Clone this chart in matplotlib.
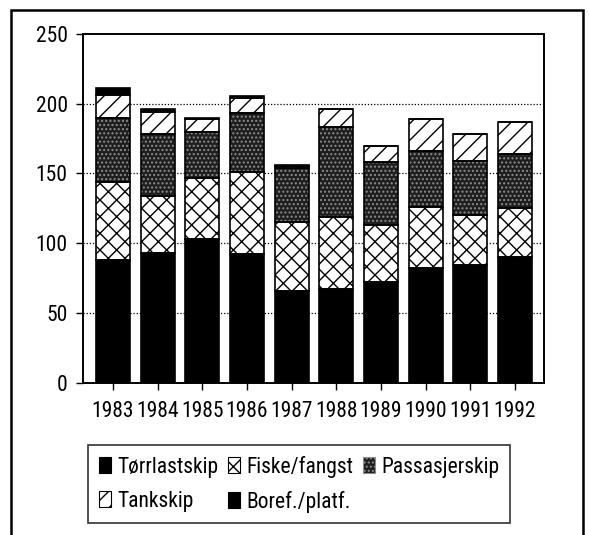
import matplotlib
matplotlib.use("Agg")
import matplotlib.pyplot as plt
from matplotlib.patches import Patch, Rectangle
import numpy as np

years = ["1983", "1984", "1985", "1986", "1987", "1988", "1989", "1990", "1991", "1992"]
torrlast = [88, 93, 103, 92, 66, 67, 72, 82, 84, 90]
fiske = [56, 41, 44, 59, 49, 52, 41, 44, 36, 35]
passasjer = [46, 44, 33, 42, 39, 64, 45, 40, 39, 39]
tank = [16, 16, 9, 11, 1.5, 13, 12, 23, 19, 23]
boref = [5, 2, 1, 1.5, 0.5, 0, 0, 0, 0, 0]

plt.rcParams["font.family"] = ["Roboto Condensed", "DejaVu Sans"]
plt.rcParams["font.size"] = 15.5
plt.rcParams["hatch.linewidth"] = 1.0

# (label, values, face, hatch, hatch colour)
series = [
    ("Tørrlastskip", torrlast, "black", "", "black"),
    ("Fiske/fangst", fiske, "white", "xx", "black"),
    ("Passasjerskip", passasjer, "#1e1e1e", "....", "#8c8c8c"),
    ("Tankskip", tank, "white", "//", "black"),
    ("Boref./platf.", boref, "black", "", "black"),
]

fig = plt.figure(figsize=(5.89, 5.35), dpi=100)
ax = fig.add_axes([0.1409, 0.285, 0.7827, 0.6514])

x = np.arange(len(years))
width = 0.76
bottom = np.zeros(len(years))
handles = {}
for label, vals, face, hatch, hcol in series:
    vals = np.asarray(vals, dtype=float)
    ax.bar(x, vals, width, bottom=bottom, facecolor=face, hatch=hatch,
           edgecolor=hcol, linewidth=0, zorder=2)
    ax.bar(x, vals, width, bottom=bottom, fill=False, edgecolor="black",
           linewidth=1.2, zorder=3)
    bottom += vals
    handles[label] = Patch(facecolor=face, hatch=hatch, edgecolor=hcol, linewidth=0.8)

ax.set_xlim(-0.67, 9.65)
ax.set_ylim(0, 250)
ax.set_yticks([0, 50, 100, 150, 200, 250])
ax.set_xticks(x)
ax.set_xticklabels(years)
for y in [50, 100, 150, 200]:
    ax.axhline(y, color="black", linestyle=(0, (1, 1.5)), linewidth=0.9, zorder=1)

ax.tick_params(axis="both", direction="out", length=5, width=1, colors="black")
ax.tick_params(axis="y", pad=6)
ax.tick_params(axis="x", pad=8)
for sp in ax.spines.values():
    sp.set_linewidth(1.4)

order = ["Tørrlastskip", "Tankskip", "Fiske/fangst", "Boref./platf.", "Passasjerskip"]
leg = ax.legend([handles[k] for k in order], order, ncol=3,
                loc="upper left", bbox_to_anchor=(88 / 589, 1 - 445 / 535),
                bbox_transform=fig.transFigure, borderaxespad=0,
                frameon=True, fancybox=False, edgecolor="black",
                handlelength=0.55, handleheight=0.75, handletextpad=0.3,
                columnspacing=0.45, labelspacing=0.6, borderpad=0.5,
                fontsize=15.5)
leg.get_frame().set_linewidth(1.2)

fig.add_artist(Rectangle((11 / 589, -0.05), (583 - 11) / 589, 1.031,
                         transform=fig.transFigure, fill=False,
                         edgecolor="black", linewidth=1.8))

fig.savefig("out.png", dpi=100)
